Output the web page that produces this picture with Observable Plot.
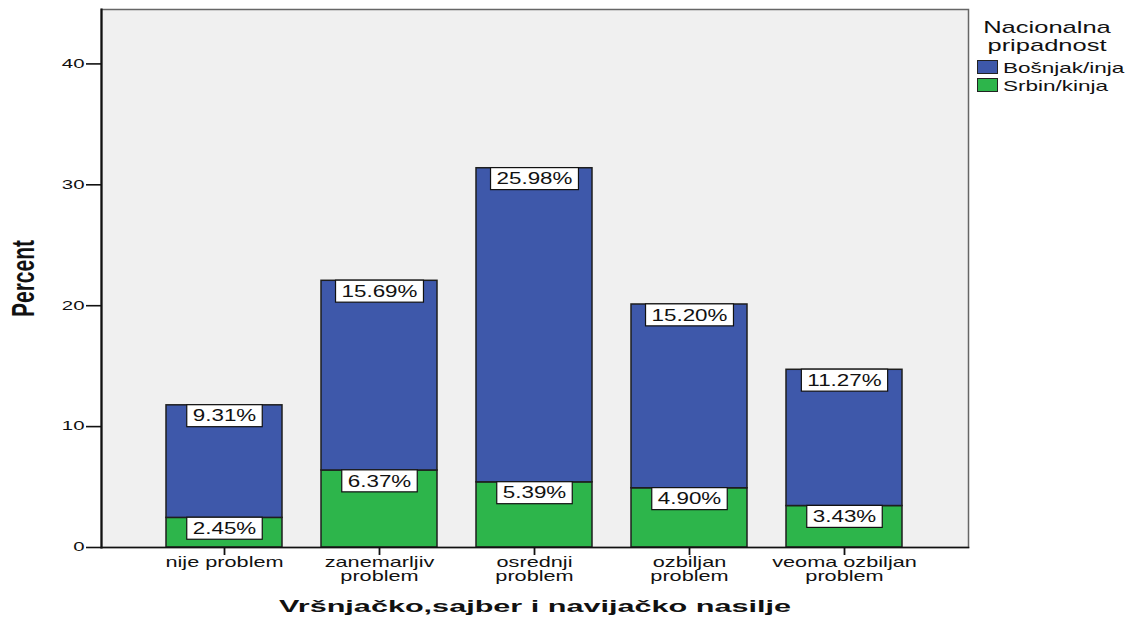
<!DOCTYPE html>
<html>
<head>
<meta charset="utf-8">
<script src="https://cdn.jsdelivr.net/npm/d3@7"></script>
<script src="https://cdn.jsdelivr.net/npm/@observablehq/plot@0.6"></script>
<style>
  html, body { margin: 0; padding: 0; background: #fff; }
  #wrap { position: relative; width: 1126px; height: 620px; font-family: "Liberation Sans", Arial, sans-serif; color: #111; }
  #legend { position: absolute; left: 968px; top: 0; width: 158px; }
  #legend .title { position: absolute; top: 19px; left: 0; width: 158px; text-align: center; font-size: 17px; line-height: 18px; transform: scaleX(1.5); transform-origin: 79px 0; }
  #legend .item { position: absolute; left: 9px; height: 14px; display: flex; align-items: center; }
  #legend .sw { width: 19px; height: 12px; border: 1px solid #222; box-sizing: content-box; }
  #legend .lab { margin-left: 5px; font-size: 15px; transform: scaleX(1.5); transform-origin: 0 50%; white-space: nowrap; }
</style>
</head>
<body>
<div id="wrap"></div>
<script>
// ---- data ----
const categories = ["nije problem", "zanemarljiv problem", "osrednji problem", "ozbiljan problem", "veoma ozbiljan problem"];
const tickLabels = ["nije problem", "zanemarljiv\nproblem", "osrednji\nproblem", "ozbiljan\nproblem", "veoma ozbiljan\nproblem"];
const seriesNames = ["Bošnjak/inja", "Srbin/kinja"];
const bosnjak = [9.31, 15.69, 25.98, 15.20, 11.27];
const srbin = [2.45, 6.37, 5.39, 4.90, 3.43];
const seriesColors = ["#3e58aa", "#2db54b"];
const yTicks = [0, 10, 20, 30, 40];
const yMax = 44.5;
const xTitle = "Vršnjačko,sajber i navijačko nasilje";
const yTitle = "Percent";
const legendTitle = ["Nacionalna", "pripadnost"];

// table: Srbin/kinja first so it stacks at the bottom
const rows = [
  ...categories.map((c, i) => ({cat: c, series: seriesNames[1], value: srbin[i]})),
  ...categories.map((c, i) => ({cat: c, series: seriesNames[0], value: bosnjak[i]}))
];

const svg = Plot.plot({
  width: 1126,
  height: 620,
  marginLeft: 101,
  marginRight: 158,
  marginTop: 9,
  marginBottom: 73,
  style: {fontFamily: "'Liberation Sans', Arial, sans-serif", background: "white", color: "#111", overflow: "visible"},
  x: {domain: categories, paddingInner: 0.25, paddingOuter: 0.404, label: null},
  y: {domain: [0, yMax], label: null},
  color: {domain: seriesNames, range: seriesColors},
  marks: [
    Plot.frame({fill: "#f0f0f0", stroke: "#666", strokeWidth: 1.5}),
    Plot.barY(rows, {x: "cat", y: "value", fill: "series", stroke: "#1e1e1e", strokeWidth: 1.5}),
    Plot.text(rows, Plot.stackY2({
      x: "cat", y: "value", z: "series",
      text: d => d.value.toFixed(2) + "%",
      dy: 11, lineAnchor: "middle", fontSize: 16, fill: "#111",
      ariaDescription: "bar-labels"
    })),
    Plot.frame({anchor: "left", stroke: "#111", strokeWidth: 2.2}),
    Plot.frame({anchor: "bottom", stroke: "#111", strokeWidth: 1.6}),
    Plot.axisY(yTicks, {tickSize: 15, tickPadding: 2, fontSize: 12, label: null, strokeWidth: 1.6}),
    Plot.axisX({tickSize: 8, tickPadding: 2, fontSize: 14, lineHeight: 1.0, label: null, strokeWidth: 1.8,
      tickFormat: d => tickLabels[categories.indexOf(d)]}),
    Plot.text([xTitle], {frameAnchor: "bottom", dy: 59, textAnchor: "middle", lineAnchor: "middle",
      fontSize: 17, fontWeight: "bold", fill: "#111", ariaDescription: "x-title"}),
    Plot.text([yTitle], {frameAnchor: "left", dx: -78, rotate: -90, textAnchor: "middle", lineAnchor: "middle",
      fontSize: 21, fontWeight: "bold", fill: "#111", ariaDescription: "y-title"})
  ]
});

const wrap = document.getElementById("wrap");
wrap.appendChild(svg);

// horizontal stretch of text glyphs (the reference is rendered wide)
function stretch(selector, sx, sy) {
  svg.querySelectorAll(selector + " text").forEach(el => {
    let t = el.getAttribute("transform");
    if (!t) {
      const x = el.getAttribute("x") || 0, y = el.getAttribute("y") || 0;
      el.removeAttribute("x"); el.removeAttribute("y");
      t = `translate(${x},${y})`;
    }
    el.setAttribute("transform", `${t} scale(${sx},${sy})`);
  });
}
stretch('g[aria-label="y-axis tick label"]', 1.7, 1);
stretch('g[aria-label="x-axis tick label"]', 1.55, 1);
stretch('g[aria-description="bar-labels"]', 1.4, 1);
stretch('g[aria-description="x-title"]', 1.8, 1);
stretch('g[aria-description="y-title"]', 1, 1.5);

// white boxes behind the bar labels
const labelsG = svg.querySelector('g[aria-description="bar-labels"]');
if (labelsG) {
  const s = svg.getBoundingClientRect();
  const boxes = document.createElementNS("http://www.w3.org/2000/svg", "g");
  labelsG.querySelectorAll("text").forEach(el => {
    const r = el.getBoundingClientRect();
    const cx = r.x + r.width / 2 - s.x, cy = r.y + r.height / 2 - s.y;
    const w = r.width + 12, h = 22;
    const rect = document.createElementNS("http://www.w3.org/2000/svg", "rect");
    rect.setAttribute("x", cx - w / 2);
    rect.setAttribute("y", cy - h / 2);
    rect.setAttribute("width", w);
    rect.setAttribute("height", h);
    rect.setAttribute("fill", "#fff");
    rect.setAttribute("stroke", "#111");
    rect.setAttribute("stroke-width", 1.2);
    boxes.appendChild(rect);
  });
  labelsG.parentNode.insertBefore(boxes, labelsG);
}

// legend (HTML, to the right of the plot)
const legend = document.createElement("div");
legend.id = "legend";
const title = document.createElement("div");
title.className = "title";
title.innerHTML = legendTitle.join("<br>");
legend.appendChild(title);
seriesNames.forEach((name, i) => {
  const item = document.createElement("div");
  item.className = "item";
  item.style.top = (60 + i * 18) + "px";
  const sw = document.createElement("div");
  sw.className = "sw";
  sw.style.background = seriesColors[i];
  const lab = document.createElement("span");
  lab.className = "lab";
  lab.textContent = name;
  item.appendChild(sw);
  item.appendChild(lab);
  legend.appendChild(item);
});
wrap.appendChild(legend);
</script>
</body>
</html>
